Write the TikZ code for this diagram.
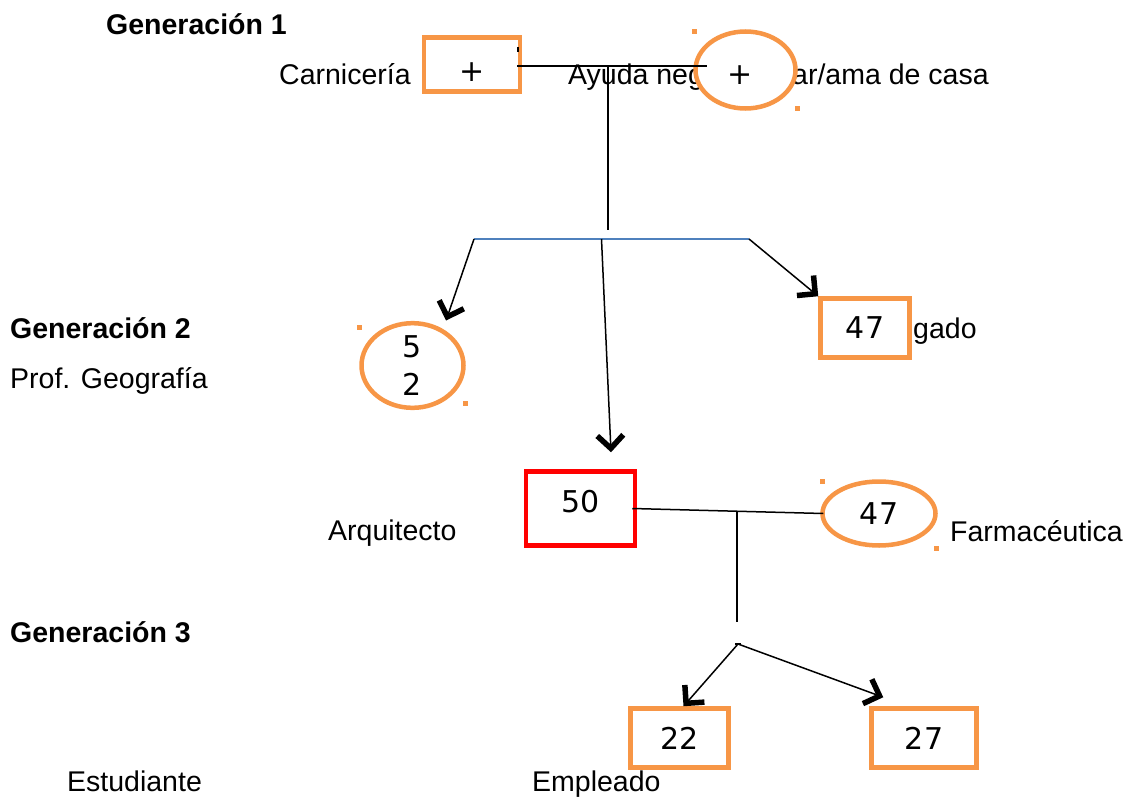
\documentclass[tikz,border=0pt]{standalone}
\usepackage{fontspec}
\setmainfont{Liberation Sans}
\newfontfamily\numfont{DejaVu Sans}
\usetikzlibrary{shapes.geometric,arrows.meta}
\definecolor{boxorange}{HTML}{F79646}
\definecolor{lineblue}{HTML}{4F81BD}
\tikzset{
	txt/.style={anchor=base west,inner sep=0pt,font=\fontsize{28.5}{34}\selectfont},
	gen/.style={txt,font=\fontsize{28.5}{34}\selectfont\bfseries},
	sign/.style={inner sep=0pt,font=\numfont\fontsize{30}{38}\selectfont},
	person/.style={sign,draw=boxorange,line width=4.5pt,fill=white},
	man/.style={person,rectangle},
	woman/.style={person,ellipse},
	link/.style={line width=1.5pt},
	arr/.style={link,-{Straight Barb[length=13pt,width=26pt,line width=5.5pt,sharp]}},
}
\begin{document}
\begin{tikzpicture}[x=1pt,y=-1pt]
	\useasboundingbox (0,0) rectangle (1129,797);

	\node[gen] (gen1) at (106,35) {Generación 1};
	\node[gen] (gen2) at (10,338) {Generación 2};
	\node[gen] (gen3) at (10,642) {Generación 3};

	\node[txt] (carn) at (279,85) {Carnicería};
	\node[txt] (ayuda) at (568,85) {Ayuda neg};
	\node[txt] (casa) at (792,85) {ar/ama de casa};
	\node[txt] (prof) at (10,388) {Prof. Geografía};
	\node[txt] (gado) at (913,338) {gado};
	\node[txt] (arq) at (328,540) {Arquitecto};
	\node[txt] (farm) at (950,541) {Farmacéutica};
	\node[txt] (estu) at (67,791) {Estudiante};
	\node[txt] (emp) at (532,791) {Empleado};

	\node[man,minimum width=96pt,minimum height=54pt] (g1man) at (472,64.5) {};
	\node[sign] (plus1) at (472,72) {+};
	\node[woman,minimum width=100pt,minimum height=77pt] (g1woman) at (745.5,70) {};
	\node[sign] (plus2) at (740,75) {+};
	\node[woman,minimum width=102pt,minimum height=72pt,align=center] (g2woman) at (412.5,365.5) {5\\2};
	\node[man,minimum width=89pt,minimum height=59pt] (g2man) at (865,328) {47};
	\node[man,draw=red,minimum width=109pt,minimum height=74pt,text depth=15pt] (g2red) at (580.5,508.5) {50};
	\node[woman,minimum width=113pt,minimum height=64pt] (g2wife) at (879,513.5) {47};
	\node[man,minimum width=98pt,minimum height=59pt] (g3a) at (679.5,738) {22};
	\node[man,minimum width=105pt,minimum height=59pt] (g3b) at (924,738) {27};

	\fill[boxorange] (691.5,29.5) rectangle ++(5,5);
	\fill[boxorange] (794.5,106.5) rectangle ++(5,5);
	\fill[boxorange] (356.5,324.5) rectangle ++(5,5);
	\fill[boxorange] (462.5,400.5) rectangle ++(5,5);
	\fill[boxorange] (819.5,478.5) rectangle ++(5,5);
	\fill[boxorange] (933.5,545.5) rectangle ++(5,5);

	\coordinate (knot1) at (608,66);
	\coordinate (knot1b) at (608,230);
	\coordinate (sibL) at (474,239);
	\coordinate (sibM) at (601.5,239);
	\coordinate (sibR) at (749,239);
	\coordinate (knot2) at (737,511);
	\coordinate (knot2b) at (737,622);
	\coordinate (knot3) at (738,644);

	\draw[link] (518,47) -- (518,52);
	\draw[link] ([xshift=-5pt]g1man.east |- knot1) -- ([xshift=14pt]g1woman.west |- knot1);
	\draw[link] (knot1) -- (knot1b);
	\draw[link,lineblue] (sibL) -- (sibR);
	\draw[arr,shorten >=9pt] (sibL) -- (g2woman.50);
	\draw[arr] (sibM) -- ([xshift=30.5pt,yshift=17pt]g2red.north);
	\draw[arr] (sibR) -- (g2man.north west);

	\draw[link] ([xshift=-5pt]g2red.east) -- ([xshift=3pt]g2wife.west);
	\draw[link] (knot2) -- (knot2b);
	\draw[link] ([xshift=-3pt]knot3) -- ([xshift=3pt]knot3);
	\draw[arr] (knot3) -- ([xshift=4pt]g3a.north);
	\draw[arr] (knot3) -- ([xshift=14pt,yshift=9pt]g3b.north west);

\end{tikzpicture}
\end{document}
